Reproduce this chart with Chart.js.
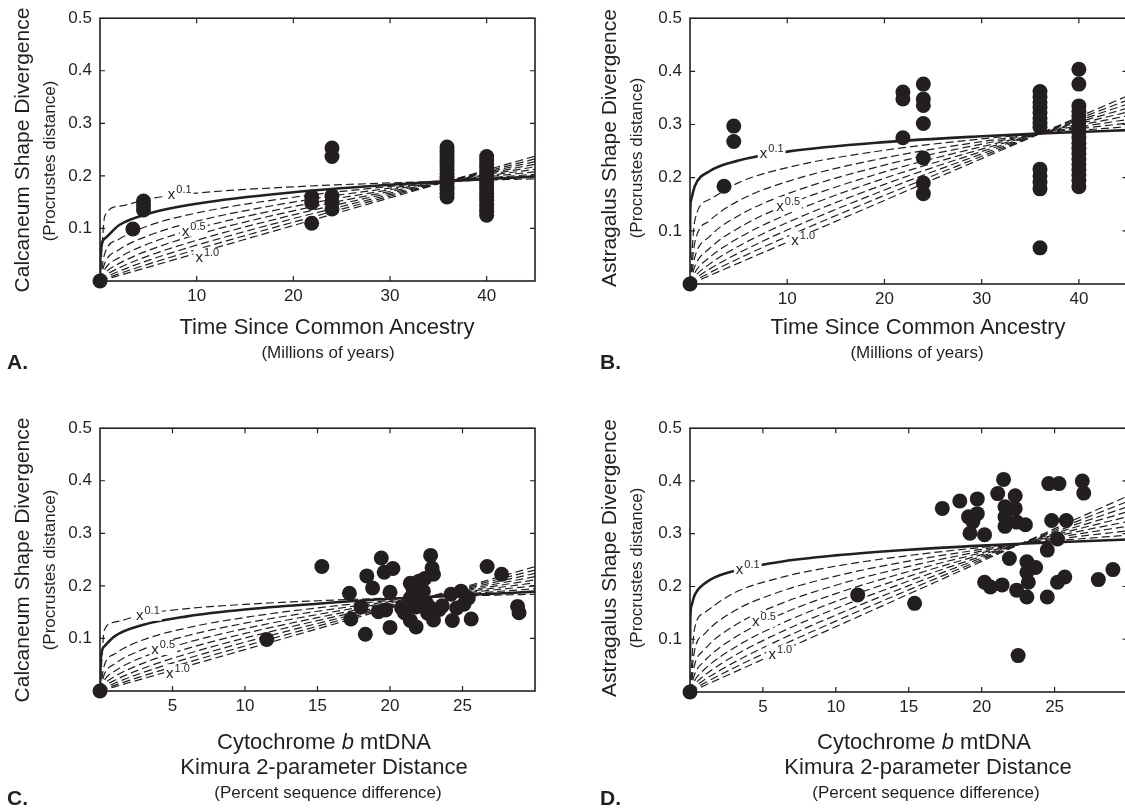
<!DOCTYPE html>
<html>
<head>
<meta charset="utf-8">
<script src="https://cdn.jsdelivr.net/npm/chart.js@4"></script>
<style>
  body { margin: 0; width: 1125px; height: 808px; overflow: hidden; position: relative; background: #fff;
         font-family: "Liberation Sans", Arial, sans-serif; color: #231f20; }
  canvas { position: absolute; }
  .t { position: absolute; white-space: nowrap; transform: translate(-50%, -50%); line-height: 1; }
  .ry { transform: translate(-50%, -50%) rotate(-90deg); }
  .big { font-size: 21px; }
  .sub { font-size: 17px; }
  .xt { font-size: 22px; }
  .xs { font-size: 17px; }
  .letter { position: absolute; font-size: 21px; font-weight: bold; line-height: 1; }
</style>
</head>
<body>
<canvas id="chartA" width="560" height="320" style="left:0;top:0"></canvas>
<canvas id="chartB" width="560" height="320" style="left:590px;top:0"></canvas>
<canvas id="chartC" width="560" height="320" style="left:0;top:410px"></canvas>
<canvas id="chartD" width="560" height="320" style="left:590px;top:410px"></canvas>

<div class="t ry big" style="left:21px;top:150px">Calcaneum Shape Divergence</div>
<div class="t ry sub" style="left:49px;top:161px">(Procrustes distance)</div>
<div class="t ry big" style="left:608px;top:148px">Astragalus Shape Divergence</div>
<div class="t ry sub" style="left:636px;top:158px">(Procrustes distance)</div>
<div class="t ry big" style="left:21px;top:560px">Calcaneum Shape Divergence</div>
<div class="t ry sub" style="left:49px;top:570px">(Procrustes distance)</div>
<div class="t ry big" style="left:608px;top:558px">Astragalus Shape Divergence</div>
<div class="t ry sub" style="left:636px;top:568px">(Procrustes distance)</div>

<div class="t xt" style="left:327px;top:327px">Time Since Common Ancestry</div>
<div class="t xs" style="left:328px;top:352px">(Millions of years)</div>
<div class="t xt" style="left:918px;top:327px">Time Since Common Ancestry</div>
<div class="t xs" style="left:917px;top:352px">(Millions of years)</div>
<div class="t xt" style="left:324px;top:742px">Cytochrome <i>b</i> mtDNA</div>
<div class="t xt" style="left:324px;top:767px">Kimura 2-parameter Distance</div>
<div class="t xs" style="left:328px;top:792px">(Percent sequence difference)</div>
<div class="t xt" style="left:924px;top:742px">Cytochrome <i>b</i> mtDNA</div>
<div class="t xt" style="left:928px;top:767px">Kimura 2-parameter Distance</div>
<div class="t xs" style="left:926px;top:792px">(Percent sequence difference)</div>

<div class="letter" style="left:7px;top:351px">A.</div>
<div class="letter" style="left:600px;top:351px">B.</div>
<div class="letter" style="left:7px;top:787px">C.</div>
<div class="letter" style="left:600px;top:787px">D.</div>

<script>
// ---- A: calcaneum vs time (Myr) ----
const timeA = [0, 3.4, 4.5, 4.5, 4.5, 21.9, 21.9, 21.9, 24, 24, 24, 24, 24,
  35.9, 35.9, 35.9, 35.9, 35.9, 35.9, 35.9, 35.9, 35.9, 35.9, 35.9, 35.9, 35.9, 35.9, 35.9, 35.9,
  40, 40, 40, 40, 40, 40, 40, 40, 40, 40, 40, 40, 40, 40, 40, 40, 40];
const shapeA = [0, 0.099, 0.152, 0.143, 0.135, 0.160, 0.149, 0.110, 0.253, 0.237, 0.162, 0.150, 0.137,
  0.255, 0.248, 0.242, 0.236, 0.229, 0.223, 0.217, 0.211, 0.205, 0.199, 0.193, 0.186, 0.180, 0.174, 0.167, 0.160,
  0.237, 0.230, 0.223, 0.216, 0.209, 0.202, 0.195, 0.188, 0.181, 0.174, 0.167, 0.160, 0.153, 0.146, 0.139, 0.132, 0.125];

// ---- B: astragalus vs time (Myr) ----
const timeB = [0, 3.5, 4.5, 4.5, 21.9, 21.9, 21.9, 24, 24, 24, 24, 24, 24, 24,
  36, 36, 36, 36, 36, 36, 36, 36, 36, 36, 36, 36, 36,
  40, 40, 40, 40, 40, 40, 40, 40, 40, 40, 40, 40, 40, 40, 40, 40, 40, 40];
const shapeB = [0, 0.184, 0.297, 0.268, 0.361, 0.348, 0.275, 0.376, 0.348, 0.336, 0.302, 0.237, 0.190, 0.170,
  0.362, 0.352, 0.342, 0.332, 0.322, 0.312, 0.302, 0.295, 0.216, 0.203, 0.191, 0.179, 0.068,
  0.404, 0.376, 0.335, 0.325, 0.315, 0.305, 0.295, 0.285, 0.275, 0.265, 0.255, 0.245, 0.235, 0.225, 0.215, 0.205, 0.195, 0.183];

// ---- C: calcaneum vs cyt b distance (%) ----
const distC = [0, 11.5, 15.3, 17.2, 17.3, 18.0, 18.3, 18.4, 18.8, 19.2, 19.4, 19.6, 19.7,
  20.0, 20.0, 20.2, 20.8, 21.0, 21.4, 21.4, 21.4, 21.6, 21.8, 21.8, 22.0, 22.0, 22.4, 22.5,
  22.8, 22.8, 22.9, 23.0, 23.0, 23.4, 24.2, 24.3, 24.6, 24.9, 25.1, 25.4, 25.6, 26.7, 27.7, 28.8, 28.9,
  21.7, 22.3, 22.6, 23.6, 21.2];
const shapeC = [0, 0.098, 0.237, 0.186, 0.137, 0.160, 0.108, 0.219, 0.196, 0.151, 0.253, 0.226, 0.154,
  0.188, 0.121, 0.233, 0.158, 0.149, 0.205, 0.177, 0.134, 0.193, 0.160, 0.122, 0.209, 0.165, 0.214, 0.168,
  0.258, 0.158, 0.234, 0.222, 0.135, 0.155, 0.184, 0.134, 0.158, 0.190, 0.165, 0.177, 0.137, 0.237, 0.222, 0.161, 0.149,
  0.185, 0.190, 0.148, 0.162, 0.162];

// ---- D: astragalus vs cyt b distance (%) ----
const distD = [0, 11.5, 15.4, 17.3, 18.5, 19.1, 19.4, 19.2, 19.7, 19.7, 20.2, 20.2, 20.6, 21.1, 21.4,
  21.5, 21.6, 21.6, 21.6, 21.9, 22.3, 22.3, 22.4, 22.5, 23.0, 23.1, 23.1, 23.1, 23.2, 23.7,
  24.5, 24.5, 24.6, 24.8, 25.2, 25.2, 25.3, 25.7, 25.8, 26.9, 27.0, 28.0, 29.0, 22.4];
const shapeD = [0, 0.184, 0.168, 0.348, 0.362, 0.332, 0.323, 0.301, 0.366, 0.338, 0.298, 0.208, 0.199, 0.376, 0.203,
  0.403, 0.351, 0.332, 0.314, 0.253, 0.372, 0.348, 0.193, 0.069, 0.317, 0.247, 0.227, 0.180, 0.208, 0.236,
  0.269, 0.180, 0.395, 0.325, 0.290, 0.208, 0.395, 0.218, 0.325, 0.400, 0.377, 0.213, 0.232, 0.322];

// model curves (solid = heavy line, fan = dashed x^p lines)
const solidXA = [0, 0.05, 0.5, 2, 5, 10, 20, 30, 36, 40, 45];
const solidYA = [0, 0.051, 0.0808, 0.1066, 0.1280, 0.1471, 0.1689, 0.1832, 0.19, 0.1940, 0.1987];
const fanXA = [0, 0.5, 2, 5, 10, 20, 30, 36, 40, 45];
const fanYA = [
  [0, 0.1239, 0.1423, 0.1560, 0.1672, 0.1792, 0.1866, 0.19, 0.1920, 0.1943],
  [0, 0.0527, 0.0798, 0.1051, 0.1294, 0.1593, 0.1799, 0.19, 0.1961, 0.2031],
  [0, 0.0343, 0.0598, 0.0863, 0.1138, 0.1502, 0.1766, 0.19, 0.1982, 0.2077],
  [0, 0.0224, 0.0448, 0.0708, 0.1001, 0.1416, 0.1735, 0.19, 0.2003, 0.2124],
  [0, 0.0146, 0.0335, 0.0581, 0.0881, 0.1335, 0.1703, 0.19, 0.2024, 0.2172],
  [0, 0.0095, 0.0251, 0.0477, 0.0775, 0.1259, 0.1672, 0.19, 0.2046, 0.2221],
  [0, 0.0062, 0.0188, 0.0392, 0.0682, 0.1187, 0.1642, 0.19, 0.2067, 0.2271],
  [0, 0.0040, 0.0141, 0.0321, 0.0600, 0.1119, 0.1613, 0.19, 0.2089, 0.2322],
  [0, 0.0026, 0.0106, 0.0264, 0.0528, 0.1056, 0.1583, 0.19, 0.2111, 0.2375]
];

const solidXB = [0, 0.02, 0.1, 0.5, 2, 5, 10, 20, 30, 36, 40, 45];
const solidYB = [0.05, 0.134, 0.157, 0.1845, 0.2120, 0.2323, 0.2490, 0.2668, 0.2779, 0.283, 0.2860, 0.2894];
const fanXB = [0, 0.5, 2, 5, 10, 20, 30, 36, 40, 45];
const fanYB = [
  [0, 0.1203, 0.1588, 0.1907, 0.2190, 0.2516, 0.2729, 0.283, 0.2890, 0.2959],
  [0, 0.0784, 0.1189, 0.1565, 0.1927, 0.2372, 0.2679, 0.283, 0.2921, 0.3026],
  [0, 0.0511, 0.0891, 0.1285, 0.1695, 0.2237, 0.2631, 0.283, 0.2952, 0.3094],
  [0, 0.0334, 0.0667, 0.1055, 0.1492, 0.2109, 0.2583, 0.283, 0.2983, 0.3164],
  [0, 0.0217, 0.0499, 0.0866, 0.1312, 0.1989, 0.2537, 0.283, 0.3015, 0.3235],
  [0, 0.0142, 0.0374, 0.0711, 0.1155, 0.1875, 0.2491, 0.283, 0.3047, 0.3308],
  [0, 0.0093, 0.0280, 0.0583, 0.1016, 0.1768, 0.2446, 0.283, 0.3079, 0.3383],
  [0, 0.0060, 0.0210, 0.0479, 0.0894, 0.1667, 0.2402, 0.283, 0.3112, 0.3459],
  [0, 0.0039, 0.0157, 0.0393, 0.0786, 0.1572, 0.2358, 0.283, 0.3144, 0.3538]
];

const solidXC = [0, 0.05, 0.3, 1, 3, 6, 10, 15, 20, 22.7, 26, 30];
const solidYC = [0, 0.060, 0.085, 0.104, 0.126, 0.142, 0.155, 0.166, 0.1755, 0.179, 0.1835, 0.189];
const fanXC = [0, 0.3, 1, 3, 6, 10, 15, 20, 22.7, 26, 30];
const fanYC = [
  [0, 0.1161, 0.1310, 0.1462, 0.1567, 0.1649, 0.1717, 0.1767, 0.179, 0.1815, 0.1841],
  [0, 0.0489, 0.0702, 0.0975, 0.1201, 0.1400, 0.1581, 0.1723, 0.179, 0.1864, 0.1946],
  [0, 0.0317, 0.0513, 0.0797, 0.1051, 0.1290, 0.1517, 0.1702, 0.179, 0.1890, 0.2001],
  [0, 0.0206, 0.0376, 0.0651, 0.0920, 0.1188, 0.1455, 0.1680, 0.179, 0.1916, 0.2058],
  [0, 0.0134, 0.0275, 0.0531, 0.0806, 0.1095, 0.1396, 0.1659, 0.179, 0.1942, 0.2116],
  [0, 0.0087, 0.0201, 0.0434, 0.0705, 0.1008, 0.1339, 0.1638, 0.179, 0.1968, 0.2176],
  [0, 0.0056, 0.0147, 0.0355, 0.0617, 0.0929, 0.1285, 0.1618, 0.179, 0.1995, 0.2237],
  [0, 0.0037, 0.0108, 0.0290, 0.0540, 0.0856, 0.1233, 0.1597, 0.179, 0.2023, 0.2301],
  [0, 0.0024, 0.0079, 0.0237, 0.0473, 0.0788, 0.1183, 0.1577, 0.179, 0.2050, 0.2366]
];

const solidXD = [0, 0.02, 0.1, 0.3, 1, 3, 6, 10, 15, 20, 22.7, 26, 30];
const solidYD = [0.06, 0.139, 0.1633, 0.1823, 0.2056, 0.2295, 0.2460, 0.2589, 0.2696, 0.2775, 0.281, 0.2848, 0.2890];
const fanXD = [0, 0.3, 1, 3, 6, 10, 15, 20, 22.7, 26, 30];
const fanYD = [
  [0, 0.1183, 0.1505, 0.1875, 0.2154, 0.2385, 0.2587, 0.2740, 0.281, 0.2887, 0.2971],
  [0, 0.0767, 0.1101, 0.1531, 0.1885, 0.2197, 0.2482, 0.2705, 0.281, 0.2927, 0.3055],
  [0, 0.0498, 0.0806, 0.1251, 0.1650, 0.2024, 0.2381, 0.2671, 0.281, 0.2967, 0.3142],
  [0, 0.0323, 0.0590, 0.1021, 0.1445, 0.1865, 0.2284, 0.2638, 0.281, 0.3007, 0.3230],
  [0, 0.0210, 0.0432, 0.0834, 0.1265, 0.1718, 0.2192, 0.2604, 0.281, 0.3048, 0.3322],
  [0, 0.0136, 0.0316, 0.0681, 0.1107, 0.1583, 0.2103, 0.2572, 0.281, 0.3090, 0.3416],
  [0, 0.0088, 0.0231, 0.0557, 0.0969, 0.1458, 0.2017, 0.2539, 0.281, 0.3132, 0.3512],
  [0, 0.0057, 0.0169, 0.0455, 0.0848, 0.1344, 0.1936, 0.2507, 0.281, 0.3175, 0.3611],
  [0, 0.0037, 0.0124, 0.0371, 0.0743, 0.1238, 0.1857, 0.2476, 0.281, 0.3219, 0.3714]
];

// exponent labels on the curves
const labelPowers = ['0.1', '0.5', '1.0'];
const labelXA = [8.25, 9.7, 11.1], labelYA = [0.165, 0.096, 0.046];
const labelXB = [8.4, 10.1, 11.65], labelYB = [0.246, 0.147, 0.082];
const labelXC = [3.3, 4.36, 5.38], labelYC = [0.145, 0.080, 0.034];
const labelXD = [3.96, 5.07, 6.19], labelYD = [0.234, 0.135, 0.072];

const ink = '#231f20';
Chart.defaults.font.family = '"Liberation Sans", Arial, sans-serif';
Chart.defaults.color = ink;

function pairs(xs, ys) {
  return xs.map((x, i) => ({ x: x, y: ys[i] }));
}

// box round the plot, inward ticks on all four sides, x^p labels
const frame = {
  id: 'frame',
  beforeDatasetsDraw(chart) {
    const { ctx, chartArea: a, scales: { x, y } } = chart;
    ctx.save();
    ctx.strokeStyle = ink;
    ctx.lineWidth = 1.6;
    ctx.strokeRect(a.left, a.top, a.right - a.left, a.bottom - a.top);
    ctx.lineWidth = 1.2;
    ctx.beginPath();
    x.ticks.forEach(t => {
      if (t.value <= x.min || t.value >= x.max) return;
      const px = x.getPixelForValue(t.value);
      ctx.moveTo(px, a.bottom); ctx.lineTo(px, a.bottom - 5);
      ctx.moveTo(px, a.top); ctx.lineTo(px, a.top + 5);
    });
    y.ticks.forEach(t => {
      if (t.value <= y.min || t.value >= y.max - 1e-9) return;
      const py = y.getPixelForValue(t.value);
      ctx.moveTo(a.left, py); ctx.lineTo(a.left + 5, py);
      ctx.moveTo(a.right, py); ctx.lineTo(a.right - 5, py);
    });
    ctx.stroke();
    ctx.restore();
  },
  beforeDatasetDraw(chart, args, opts) {
    if (args.index !== 0) return;
    const { ctx, scales: { x, y } } = chart;
    ctx.save();
    opts.labels.forEach(l => {
      const px = x.getPixelForValue(l.x), py = y.getPixelForValue(l.y);
      ctx.font = '15px "Liberation Sans", Arial, sans-serif';
      const w1 = ctx.measureText('x').width;
      ctx.font = '11px "Liberation Sans", Arial, sans-serif';
      const w2 = ctx.measureText(l.p).width;
      const left = px - (w1 + w2 + 1) / 2;
      ctx.fillStyle = '#fff';
      ctx.fillRect(left - 2, py - 9, w1 + w2 + 5, 15);
      ctx.fillStyle = ink;
      ctx.textBaseline = 'alphabetic';
      ctx.font = '15px "Liberation Sans", Arial, sans-serif';
      ctx.fillText('x', left, py + 5);
      ctx.font = '11px "Liberation Sans", Arial, sans-serif';
      ctx.fillText(l.p, left + w1 + 1, py - 1);
    });
    ctx.restore();
  }
};

function makePanel(id, p) {
  const datasets = [{
    type: 'scatter',
    data: pairs(p.px, p.py),
    backgroundColor: ink,
    borderWidth: 0,
    pointRadius: 7.5,
    order: 0,
    clip: false
  }, {
    type: 'line',
    data: pairs(p.solidX, p.solidY),
    borderColor: ink,
    borderWidth: 2.6,
    pointRadius: 0,
    cubicInterpolationMode: 'monotone',
    fill: false,
    order: 1
  }];
  p.fanY.forEach(ys => {
    datasets.push({
      type: 'line',
      data: pairs(p.fanX, ys),
      borderColor: ink,
      borderWidth: 1.2,
      borderDash: [8, 4],
      pointRadius: 0,
      cubicInterpolationMode: 'monotone',
      fill: false,
      order: 2
    });
  });
  const labels = labelPowers.map((pw, i) => ({ p: pw, x: p.lx[i], y: p.ly[i] }));

  new Chart(document.getElementById(id), {
    type: 'scatter',
    data: { datasets: datasets },
    options: {
      responsive: false,
      animation: false,
      layout: { padding: { top: p.top, right: p.right, left: 0, bottom: 0 } },
      plugins: {
        legend: { display: false },
        tooltip: { enabled: false },
        frame: { labels: labels }
      },
      scales: {
        x: {
          type: 'linear', min: 0, max: p.xMax,
          afterFit: s => { s.height = p.axisH; },
          grid: { display: false, drawTicks: false },
          border: { display: false },
          ticks: {
            stepSize: p.xStep, includeBounds: false, padding: 5, maxRotation: 0, autoSkip: false,
            font: { size: 17 },
            callback: v => (v <= 0 || v >= p.xMax) ? '' : v
          }
        },
        y: {
          type: 'linear', min: 0, max: 0.5,
          afterFit: s => { s.width = 100; },
          grid: { display: false, drawTicks: false },
          border: { display: false },
          ticks: {
            stepSize: 0.1, padding: 8,
            font: { size: 17 },
            callback: v => v <= 0 ? '' : v.toFixed(1)
          }
        }
      }
    },
    plugins: [frame]
  });
}

makePanel('chartA', { px: timeA, py: shapeA, solidX: solidXA, solidY: solidYA, fanX: fanXA, fanY: fanYA,
  lx: labelXA, ly: labelYA, xMax: 45, xStep: 10, top: 15, right: 25, axisH: 39 });
makePanel('chartB', { px: timeB, py: shapeB, solidX: solidXB, solidY: solidYB, fanX: fanXB, fanY: fanYB,
  lx: labelXB, ly: labelYB, xMax: 45, xStep: 10, top: 15, right: 22.5, axisH: 36 });
makePanel('chartC', { px: distC, py: shapeC, solidX: solidXC, solidY: solidYC, fanX: fanXC, fanY: fanYC,
  lx: labelXC, ly: labelYC, xMax: 30, xStep: 5, top: 15, right: 25, axisH: 39 });
makePanel('chartD', { px: distD, py: shapeD, solidX: solidXD, solidY: solidYD, fanX: fanXD, fanY: fanYD,
  lx: labelXD, ly: labelYD, xMax: 30, xStep: 5, top: 13, right: 22.5, axisH: 38 });
</script>
</body>
</html>
